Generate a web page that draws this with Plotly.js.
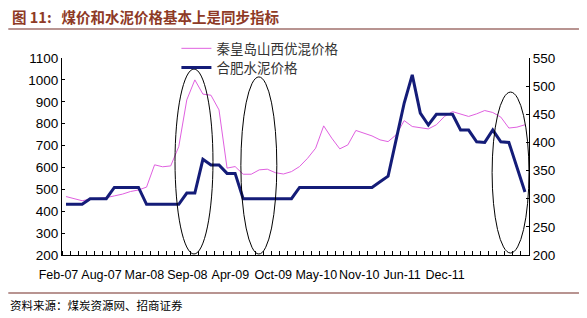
<!DOCTYPE html>
<html>
<head>
<meta charset="utf-8">
<script src="https://cdn.plot.ly/plotly-3.0.1.min.js"></script>
<style>
html,body{margin:0;padding:0;background:#fff;}
#chart{width:587px;height:318px;}
</style>
</head>
<body>
<div id="chart"></div>
<script>
// ---- data ----
const coalName = '秦皇岛山西优混价格';
const cementName = '合肥水泥价格';

const coalPrice = [
  467,457,448,455,458,462,470,478,490,497,
  510,612,603,607,695,909,1000,935,930,863,
  597,604,569,569,589,592,576,570,581,604,
  642,688,790,734,685,703,769,757,744,726,
  718,749,814,787,780,776,795,833,855,845,
  833,845,860,851,830,780,784,795
];
const cementPrice = [
  290,290,290,300,300,300,320,320,320,320,
  290,290,290,290,290,310,310,370,360,360,
  345,345,300,300,300,300,300,300,300,320,
  320,320,320,320,320,320,320,320,320,330,
  340,405,470,520,452,431,450,450,450,422,
  422,401,400,422,401,400,356,312
];
const xLabels = ['Feb-07','Aug-07','Mar-08','Sep-08','Apr-09','Oct-09','May-10','Nov-10','Jun-11','Dec-11'];
const leftTicks = [200,300,400,500,600,700,800,900,1000,1100];
const rightTicks = [200,250,300,350,400,450,500,550];

// ---- build ----
const idx = coalPrice.map((_, i) => i);
const labelStart = 0.06, labelStep = 5.335;
const labelPos = xLabels.map((_, k) => labelStart + labelStep * k);

const traces = [
  {x: idx, y: coalPrice, name: coalName, type: 'scatter', mode: 'lines',
   line: {color: '#e060e0', width: 1}, yaxis: 'y', legend: 'legend'},
  {x: idx, y: cementPrice, name: cementName, type: 'scatter', mode: 'lines',
   line: {color: '#141c78', width: 3}, yaxis: 'y2', legend: 'legend2'}
];

const ell = (x0, x1, y0, y1) => ({type: 'circle', xref: 'paper', yref: 'paper',
  x0: x0, x1: x1, y0: y0, y1: y1, line: {color: '#000', width: 1}, fillcolor: 'rgba(0,0,0,0)'});

const numFont = {family: 'Liberation Sans, Arial, sans-serif', size: 13.5, color: '#000'};
const legFont = {family: 'Noto Sans CJK SC, sans-serif', size: 13.5, color: '#333'};

const layout = {
  width: 587, height: 318,
  margin: {l: 62, r: 58, t: 58, b: 63},
  paper_bgcolor: '#fff', plot_bgcolor: '#fff',
  showlegend: true,
  legend: {x: 0.245, xanchor: 'left', y: 1.048, yanchor: 'middle', bgcolor: 'rgba(0,0,0,0)',
    font: legFont, itemwidth: 30},
  legend2: {x: 0.245, xanchor: 'left', y: 0.951, yanchor: 'middle', bgcolor: 'rgba(0,0,0,0)',
    font: legFont, itemwidth: 30},
  xaxis: {range: [-0.5, coalPrice.length - 0.5], showgrid: false, zeroline: false,
    showline: true, linecolor: '#000', linewidth: 1,
    tickmode: 'array', tickvals: labelPos, ticktext: xLabels, ticks: '', tickangle: 0,
    ticklabelshift: -8, ticklabelstandoff: 8,
    tickfont: {family: 'Liberation Sans, Arial, sans-serif', size: 12.5, color: '#000'},
    minor: {tickmode: 'linear', tick0: -0.5, dtick: 1, ticks: 'inside', ticklen: 4,
      tickcolor: '#000', tickwidth: 1, showgrid: false}},
  yaxis: {range: [200, 1100], tickmode: 'array', tickvals: leftTicks, showgrid: false,
    zeroline: false, showline: true, linecolor: '#000', linewidth: 1,
    ticks: 'inside', ticklen: 3, tickcolor: '#000', tickfont: numFont},
  yaxis2: {range: [200, 550], tickmode: 'array', tickvals: rightTicks, overlaying: 'y',
    side: 'right', showgrid: false, zeroline: false, showline: true, linecolor: '#000',
    linewidth: 1, ticks: 'inside', ticklen: 3, tickcolor: '#000', tickfont: numFont},
  shapes: [
    ell(0.242, 0.3233, 0.005, 0.944),
    ell(0.383, 0.460, 0.005, 0.904),
    ell(0.921, 1.0, 0.01, 0.827),
    {type: 'line', xref: 'paper', yref: 'paper', x0: -0.115, x1: 1.107, y0: 1.147, y1: 1.147,
     line: {color: '#a0706c', width: 1.5}},
    {type: 'line', xref: 'paper', yref: 'paper', x0: -0.115, x1: 1.107, y0: -0.193, y1: -0.193,
     line: {color: '#a0706c', width: 1.5}}
  ],
  annotations: [
    {text: '<b>图 11:\u00a0\u00a0\u00a0煤价和水泥价格基本上是同步指标</b>', xref: 'paper', yref: 'paper',
     x: -0.112, y: 1.21, xanchor: 'left', yanchor: 'middle', showarrow: false,
     font: {family: 'Noto Sans CJK SC, sans-serif', size: 14.5, color: '#8e3a26'}},
    {text: '资料来源：煤炭资源网、招商证券', xref: 'paper', yref: 'paper',
     x: -0.115, y: -0.254, xanchor: 'left', yanchor: 'middle', showarrow: false,
     font: {family: 'Noto Sans CJK SC, sans-serif', size: 11.5, color: '#000'}}
  ]
};

Plotly.newPlot('chart', traces, layout, {displayModeBar: false, staticPlot: true});
</script>
</body>
</html>
